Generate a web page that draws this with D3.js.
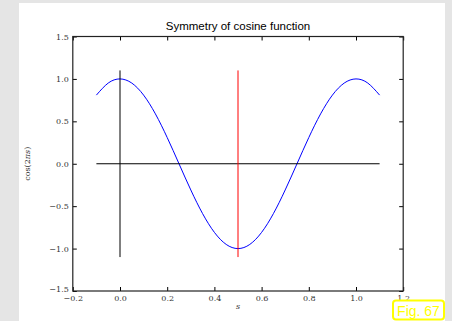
<!DOCTYPE html>
<html>
<head>
<meta charset="utf-8">
<script src="https://cdn.jsdelivr.net/npm/d3@7"></script>
<style>
  html, body { margin: 0; padding: 0; background: #e5e5e5; }
  svg { display: block; }
</style>
</head>
<body>
<svg id="chart" width="452" height="321"></svg>
<script>
// Sampled curve cos(2πs) over s in [-0.1, 1.1]
const sValues = [-0.10, -0.05, 0.00, 0.05, 0.10, 0.15, 0.20, 0.25, 0.30, 0.35, 0.40, 0.45, 0.50,
                 0.55, 0.60, 0.65, 0.70, 0.75, 0.80, 0.85, 0.90, 0.95, 1.00, 1.05, 1.10];
const cosValues = [0.809, 0.951, 1.000, 0.951, 0.809, 0.588, 0.309, 0.000, -0.309, -0.588, -0.809, -0.951, -1.000,
                   -0.951, -0.809, -0.588, -0.309, 0.000, 0.309, 0.588, 0.809, 0.951, 1.000, 0.951, 0.809];

// Horizontal zero line and the two vertical symmetry markers
const hLineS = [-0.1, 1.1];
const hLineY = 0;
const vLineS = [0.0, 0.5];
const vLineY = [-1.1, 1.1];
const vLineColors = ["#000000", "#ff0000"];

const xTicks = [-0.2, 0.0, 0.2, 0.4, 0.6, 0.8, 1.0, 1.2];
const yTicks = [-1.5, -1.0, -0.5, 0.0, 0.5, 1.0, 1.5];
const xDomain = [-0.2, 1.2];
const yDomain = [-1.5, 1.5];

const title = "Symmetry of cosine function";
const figLabel = "Fig. 67";

const svg = d3.select("#chart");

// White page panel
svg.append("rect").attr("x", 19).attr("y", 3).attr("width", 426).attr("height", 330).attr("fill", "#ffffff");

const plot = { left: 72.8, right: 403.2, top: 36.5, bottom: 291 };
const x = d3.scaleLinear().domain(xDomain).range([plot.left, plot.right]);
const y = d3.scaleLinear().domain(yDomain).range([plot.bottom, plot.top]);

const serif = "'DejaVu Serif', 'Liberation Serif', serif";

// Curve
const pts = sValues.map((s, i) => [s, cosValues[i]]);
svg.append("path")
  .datum(pts)
  .attr("fill", "none")
  .style("stroke", "#0000ff")
  .attr("stroke-width", 1)
  .attr("d", d3.line().x(d => x(d[0])).y(d => y(d[1])).curve(d3.curveNatural));

// Horizontal zero line
svg.append("line")
  .attr("x1", x(hLineS[0])).attr("x2", x(hLineS[1]))
  .attr("y1", y(hLineY)).attr("y2", y(hLineY))
  .style("stroke", "#000000").attr("stroke-width", 1);

// Vertical markers
vLineS.forEach((s, i) => {
  svg.append("line")
    .attr("class", "vline")
    .attr("x1", x(s)).attr("x2", x(s))
    .attr("y1", y(vLineY[0])).attr("y2", y(vLineY[1]))
    .style("stroke", vLineColors[i])
    .style("stroke-width", "1px");
});

// Axes with inward ticks on all four sides
const tickFmt = d => d < 0 ? "\u2212" + Math.abs(d).toFixed(1) : d.toFixed(1);

const bottomAxis = svg.append("g").attr("transform", `translate(0,${plot.bottom})`)
  .call(d3.axisBottom(x).tickValues(xTicks).tickSize(-4).tickPadding(4).tickFormat(tickFmt));
const topAxis = svg.append("g").attr("transform", `translate(0,${plot.top})`)
  .call(d3.axisTop(x).tickValues(xTicks).tickSize(-4).tickFormat(""));
const leftAxis = svg.append("g").attr("transform", `translate(${plot.left},0)`)
  .call(d3.axisLeft(y).tickValues(yTicks).tickSize(-4).tickPadding(4).tickFormat(tickFmt));
const rightAxis = svg.append("g").attr("transform", `translate(${plot.right},0)`)
  .call(d3.axisRight(y).tickValues(yTicks).tickSize(-4).tickFormat(""));

[bottomAxis, topAxis, leftAxis, rightAxis].forEach(g => {
  g.select(".domain").remove();
  g.selectAll(".tick line").attr("stroke", "#000").attr("stroke-width", 1);
  g.selectAll(".tick text").attr("font-family", serif).attr("font-size", 8).attr("fill", "#333");
});
// Lift the lowest y label slightly so it clears the first x label
leftAxis.selectAll(".tick text").filter(d => d === yDomain[0]).attr("dy", "0.05em");

// Frame
svg.append("rect")
  .attr("x", plot.left).attr("y", plot.top)
  .attr("width", plot.right - plot.left).attr("height", plot.bottom - plot.top)
  .attr("fill", "none").attr("stroke", "#222").attr("stroke-width", 1.2);

// Title
svg.append("text")
  .attr("x", (plot.left + plot.right) / 2).attr("y", 30)
  .attr("text-anchor", "middle")
  .attr("font-family", "'Liberation Sans', Arial, sans-serif")
  .attr("font-size", 11.5).attr("fill", "#000")
  .text(title);

// Axis labels
svg.append("text")
  .attr("x", (plot.left + plot.right) / 2).attr("y", 309)
  .attr("text-anchor", "middle")
  .attr("font-family", serif).attr("font-style", "italic")
  .attr("font-size", 8).attr("fill", "#333")
  .text("s");

const yLabel = svg.append("text")
  .attr("transform", `translate(30,${(plot.top + plot.bottom) / 2}) rotate(-90)`)
  .attr("text-anchor", "middle")
  .attr("font-family", serif)
  .attr("font-size", 8).attr("fill", "#333");
yLabel.append("tspan").text("cos(2");
yLabel.append("tspan").attr("font-style", "italic").text("\u03C0s");
yLabel.append("tspan").text(")");

// Figure tag
svg.append("rect")
  .attr("x", 393).attr("y", 300.5).attr("width", 51).attr("height", 19)
  .attr("rx", 3).attr("ry", 3)
  .attr("fill", "#ffffff").attr("stroke", "#ffff00").attr("stroke-width", 2);
svg.append("text")
  .attr("x", 418.5).attr("y", 315.5)
  .attr("text-anchor", "middle")
  .attr("font-family", "'Liberation Sans', Arial, sans-serif")
  .attr("font-size", 14).attr("fill", "#ffff00")
  .text(figLabel);
</script>
</body>
</html>
